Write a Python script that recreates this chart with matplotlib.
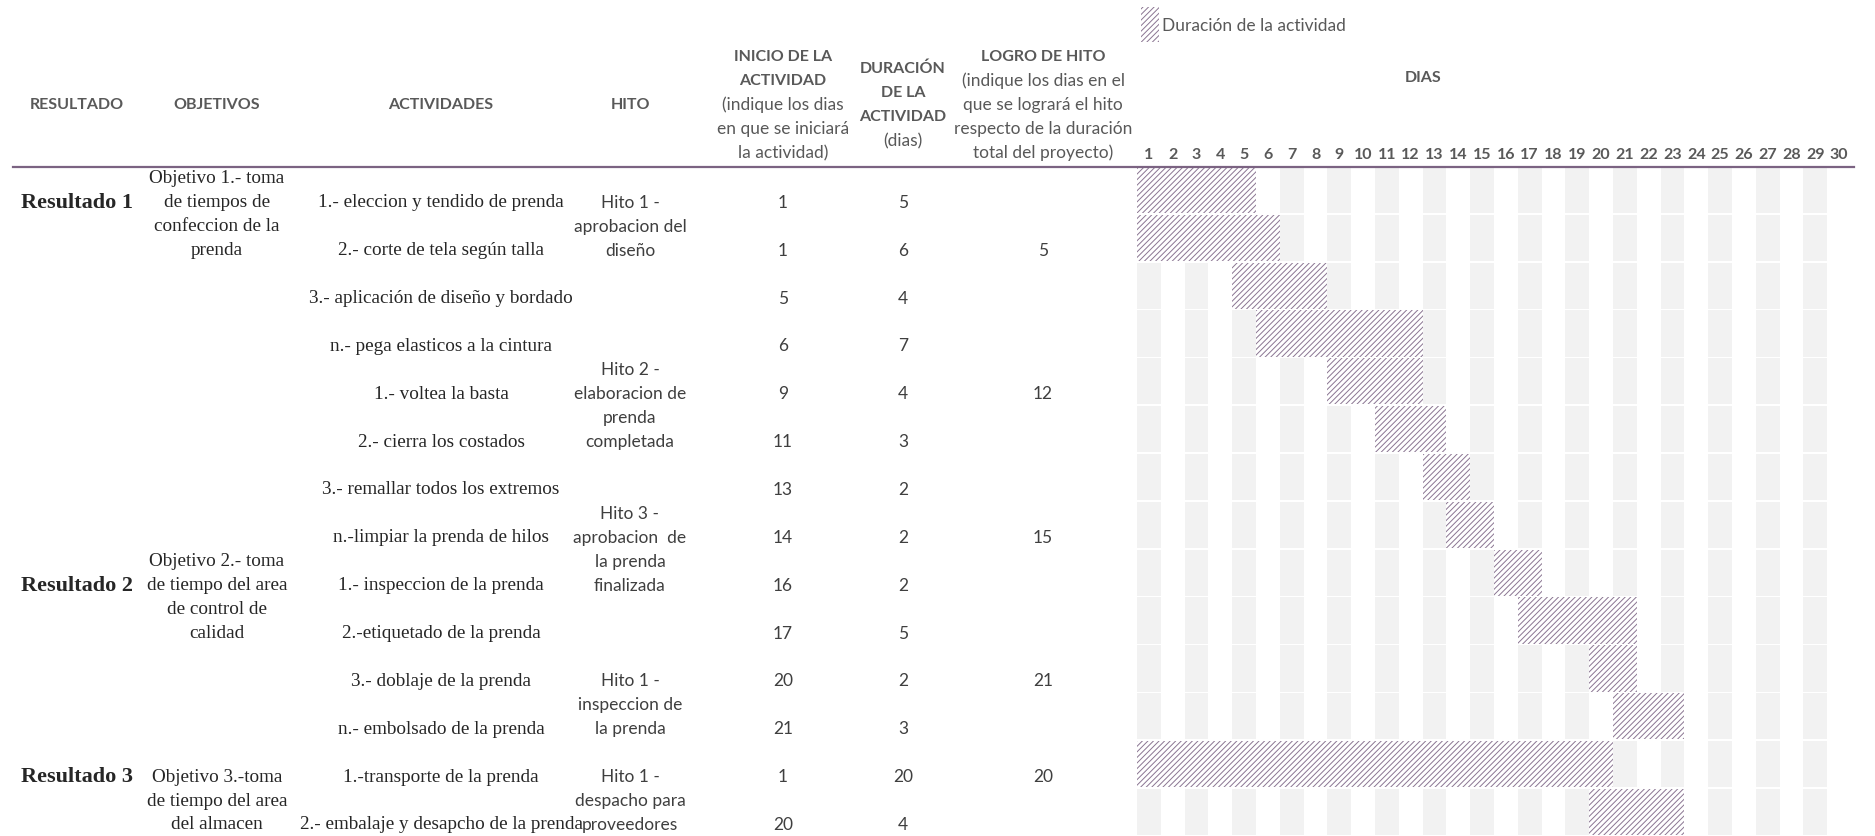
import numpy as np
import matplotlib.pyplot as plt
from matplotlib import transforms
from matplotlib.patches import Rectangle
from matplotlib.lines import Line2D

# ---- data ----
resultados = ['Resultado 1', 'Resultado 2', 'Resultado 3']
resultado_rows = [0.75, 8.75, 12.75]

objetivos = [
    ['Objetivo 1.- toma', 'de tiempos de', 'confeccion de la', 'prenda'],
    ['Objetivo 2.- toma', 'de tiempo del area', 'de control de', 'calidad'],
    ['Objetivo 3.-toma', 'de tiempo del area', 'del almacen'],
]
objetivo_rows = [1.0, 9.0, 13.25]

actividades = [
    '1.- eleccion y tendido de prenda',
    '2.- corte de tela según talla',
    '3.- aplicación de diseño y bordado',
    'n.- pega elasticos a la cintura',
    '1.- voltea la basta',
    '2.- cierra los costados',
    '3.- remallar todos los extremos',
    'n.-limpiar la prenda de hilos',
    '1.- inspeccion de la prenda',
    '2.-etiquetado de la prenda',
    '3.- doblaje de la prenda',
    'n.- embolsado de la prenda',
    '1.-transporte de la prenda',
    '2.- embalaje y desapcho de la prenda',
]
inicio = [1, 1, 5, 6, 9, 11, 13, 14, 16, 17, 20, 21, 1, 20]
duracion = [5, 6, 4, 7, 4, 3, 2, 2, 2, 5, 2, 3, 20, 4]

hitos = [
    ['Hito 1 -', 'aprobacion del', 'diseño'],
    ['Hito 2 -', 'elaboracion de', 'prenda', 'completada'],
    ['Hito 3 -', 'aprobacion  de', 'la prenda', 'finalizada'],
    ['Hito 1 -', 'inspeccion de', 'la prenda'],
    ['Hito 1 -', 'despacho para', 'proveedores'],
]
hito_rows = [1.25, 5.0, 8.0, 11.25, 13.25]

logro = [5, 12, 15, 21, 20]
logro_rows = [1, 4, 7, 10, 12]

dias = list(range(1, 31))

# ---- layout ----
W, H = 1875, 837
SANS = 'Lato'
SERIF = 'Liberation Serif'
HEAD_C = '#595959'
TXT_C = '#3f3f3f'
SER_C = '#262626'
HATCH_C = '#8a7592'
GRAY = '#F2F2F2'

plt.rcParams['hatch.linewidth'] = 0.7
plt.rcParams['hatch.color'] = HATCH_C

fig = plt.figure(figsize=(W / 100, H / 100), dpi=100)

n_rows = len(actividades)
top_px, row_px = 167, 47.85
day_px = 23.8
ax = fig.add_axes([1137 / W, 1 - (top_px + n_rows * row_px) / H,
                   len(dias) * day_px / W, n_rows * row_px / H])
ax.set_xlim(0, len(dias))
ax.set_ylim(n_rows, 0)
ax.axis('off')

rows = np.arange(n_rows)
# alternate grey columns
for d in dias:
    if d % 2 == 1:
        ax.barh(rows + 0.5, 1, left=d - 1, height=0.965, color=GRAY, linewidth=0)
# activity bars
ax.barh(rows + 0.5, duracion, left=np.array(inicio) - 1, height=0.965,
        facecolor='white', edgecolor=HATCH_C, linewidth=0, hatch='//////')

col_x = {'res': 77, 'obj': 217, 'act': 441, 'hito': 630,
         'ini': 783, 'dur': 903, 'logro': 1043}
tr = transforms.blended_transform_factory(fig.transFigure, ax.transData)


def block(lines, x, yc, step, transform, **kw):
    n = len(lines)
    for k, s in enumerate(lines):
        fig.text(x, yc + (k - (n - 1) / 2) * step, s, transform=transform,
                 ha='center', va='center', **kw)


serif_kw = dict(family=SERIF, fontsize=13.8, color=SER_C)
sans_kw = dict(family=SANS, fontsize=12.5, color=TXT_C)

for name, r in zip(resultados, resultado_rows):
    fig.text(col_x['res'] / W, r, name, transform=tr, ha='center', va='center',
             family=SERIF, fontsize=16, fontweight='bold', color=SER_C)
for lines, r in zip(objetivos, objetivo_rows):
    block(lines, col_x['obj'] / W, r, 0.5, tr, **serif_kw)
for i, a in enumerate(actividades):
    fig.text(col_x['act'] / W, i + 0.75, a, transform=tr, ha='center', va='center', **serif_kw)
    fig.text(col_x['ini'] / W, i + 0.75, str(inicio[i]), transform=tr, ha='center', va='center', **sans_kw)
    fig.text(col_x['dur'] / W, i + 0.75, str(duracion[i]), transform=tr, ha='center', va='center', **sans_kw)
for lines, r in zip(hitos, hito_rows):
    block(lines, col_x['hito'] / W, r, 0.5, tr, **sans_kw)
for v, r in zip(logro, logro_rows):
    fig.text(col_x['logro'] / W, r + 0.75, str(v), transform=tr, ha='center', va='center', **sans_kw)

# ---- headers ----
hb = dict(family=SANS, fontsize=11.5, fontweight='bold', color=HEAD_C)
hr = dict(family=SANS, fontsize=12.5, color=HEAD_C)
y_head = 1 - 105 / H
for key, lab in [('res', 'RESULTADO'), ('obj', 'OBJETIVOS'), ('act', 'ACTIVIDADES'), ('hito', 'HITO')]:
    fig.text(col_x[key] / W, y_head, lab, ha='center', va='center', **hb)

step = 24 / H
def head_block(parts, x):
    n = len(parts)
    for k, (s, bold) in enumerate(parts):
        fig.text(x / W, y_head - (k - (n - 1) / 2) * step, s, ha='center', va='center',
                 **(hb if bold else hr))

head_block([('INICIO DE LA', True), ('ACTIVIDAD', True), ('(indique los dias', False),
            ('en que se iniciará', False), ('la actividad)', False)], col_x['ini'])
head_block([('DURACIÓN', True), ('DE LA', True), ('ACTIVIDAD', True), ('(dias)', False)], col_x['dur'])
head_block([('LOGRO DE HITO', True), ('(indique los dias en el', False), ('que se logrará el hito', False),
            ('respecto de la duración', False), ('total del proyecto)', False)], col_x['logro'])

fig.text(1423 / W, 1 - 78 / H, 'DIAS', ha='center', va='center', **hb)
tr_days = transforms.blended_transform_factory(ax.transData, fig.transFigure)
for d in dias:
    fig.text(d - 0.5, 1 - 155 / H, str(d), transform=tr_days, ha='center', va='center', **hb)

# header rule
fig.add_artist(Line2D([13 / W, 1854 / W], [1 - 168 / H] * 2, color='#7b6382', lw=1.6))

# legend
fig.add_artist(Rectangle((1141 / W, 1 - 43 / H), 18 / W, 35 / H, transform=fig.transFigure,
                         facecolor='white', edgecolor=HATCH_C, linewidth=0, hatch='//////'))
fig.text(1162 / W, 1 - 26 / H, 'Duración de la actividad', ha='left', va='center',
         family=SANS, fontsize=12.5, color=HEAD_C)

fig.savefig('out.png', dpi=100)
